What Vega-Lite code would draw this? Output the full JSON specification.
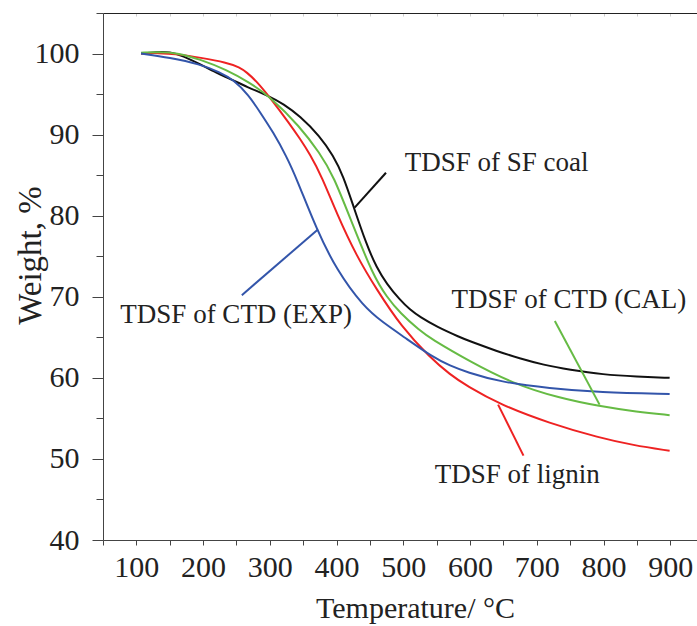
{
  "$schema": "https://vega.github.io/schema/vega-lite/v6.json",
  "width": 594,
  "height": 527,
  "autosize": {"type": "none"},
  "padding": {"left": 103, "top": 13, "right": 0, "bottom": 86},
  "config": {"view": {"stroke": null}, "font": "Liberation Serif"},
  "datasets": {
    "curves": [
      {"series": "SF coal", "t": 107, "w": 100.0},
      {"series": "SF coal", "t": 130, "w": 100.2},
      {"series": "SF coal", "t": 150, "w": 100.2},
      {"series": "SF coal", "t": 170, "w": 99.7},
      {"series": "SF coal", "t": 195, "w": 98.7},
      {"series": "SF coal", "t": 220, "w": 97.6},
      {"series": "SF coal", "t": 240, "w": 96.9},
      {"series": "SF coal", "t": 265, "w": 95.9},
      {"series": "SF coal", "t": 300, "w": 94.7},
      {"series": "SF coal", "t": 320, "w": 93.8},
      {"series": "SF coal", "t": 345, "w": 92.3},
      {"series": "SF coal", "t": 375, "w": 89.8},
      {"series": "SF coal", "t": 395, "w": 87.4},
      {"series": "SF coal", "t": 410, "w": 84.9},
      {"series": "SF coal", "t": 425, "w": 81.2},
      {"series": "SF coal", "t": 445, "w": 76.4},
      {"series": "SF coal", "t": 460, "w": 73.6},
      {"series": "SF coal", "t": 475, "w": 71.6},
      {"series": "SF coal", "t": 495, "w": 69.6},
      {"series": "SF coal", "t": 510, "w": 68.4},
      {"series": "SF coal", "t": 525, "w": 67.5},
      {"series": "SF coal", "t": 550, "w": 66.3},
      {"series": "SF coal", "t": 585, "w": 65.0},
      {"series": "SF coal", "t": 600, "w": 64.5},
      {"series": "SF coal", "t": 640, "w": 63.3},
      {"series": "SF coal", "t": 674, "w": 62.4},
      {"series": "SF coal", "t": 710, "w": 61.6},
      {"series": "SF coal", "t": 749, "w": 61.0},
      {"series": "SF coal", "t": 799, "w": 60.4},
      {"series": "SF coal", "t": 850, "w": 60.15},
      {"series": "SF coal", "t": 899, "w": 60.0},

      {"series": "lignin", "t": 107, "w": 100.0},
      {"series": "lignin", "t": 130, "w": 100.1},
      {"series": "lignin", "t": 165, "w": 99.9},
      {"series": "lignin", "t": 195, "w": 99.5},
      {"series": "lignin", "t": 235, "w": 98.9},
      {"series": "lignin", "t": 255, "w": 98.3},
      {"series": "lignin", "t": 265, "w": 97.7},
      {"series": "lignin", "t": 280, "w": 96.6},
      {"series": "lignin", "t": 300, "w": 94.6},
      {"series": "lignin", "t": 330, "w": 91.3},
      {"series": "lignin", "t": 345, "w": 89.5},
      {"series": "lignin", "t": 360, "w": 87.6},
      {"series": "lignin", "t": 378, "w": 84.8},
      {"series": "lignin", "t": 400, "w": 80.3},
      {"series": "lignin", "t": 430, "w": 75.0},
      {"series": "lignin", "t": 460, "w": 70.9},
      {"series": "lignin", "t": 497, "w": 66.3},
      {"series": "lignin", "t": 540, "w": 62.5},
      {"series": "lignin", "t": 570, "w": 60.4},
      {"series": "lignin", "t": 595, "w": 59.0},
      {"series": "lignin", "t": 645, "w": 56.7},
      {"series": "lignin", "t": 719, "w": 54.4},
      {"series": "lignin", "t": 794, "w": 52.6},
      {"series": "lignin", "t": 844, "w": 51.7},
      {"series": "lignin", "t": 899, "w": 51.0},

      {"series": "CAL", "t": 107, "w": 100.1},
      {"series": "CAL", "t": 135, "w": 100.2},
      {"series": "CAL", "t": 160, "w": 100.1},
      {"series": "CAL", "t": 195, "w": 99.3},
      {"series": "CAL", "t": 235, "w": 98.0},
      {"series": "CAL", "t": 270, "w": 96.4},
      {"series": "CAL", "t": 300, "w": 94.7},
      {"series": "CAL", "t": 345, "w": 91.0},
      {"series": "CAL", "t": 375, "w": 87.7},
      {"series": "CAL", "t": 395, "w": 85.0},
      {"series": "CAL", "t": 425, "w": 78.7},
      {"series": "CAL", "t": 455, "w": 72.6},
      {"series": "CAL", "t": 475, "w": 70.0},
      {"series": "CAL", "t": 495, "w": 68.0},
      {"series": "CAL", "t": 525, "w": 65.8},
      {"series": "CAL", "t": 540, "w": 64.9},
      {"series": "CAL", "t": 600, "w": 62.0},
      {"series": "CAL", "t": 664, "w": 59.3},
      {"series": "CAL", "t": 734, "w": 57.5},
      {"series": "CAL", "t": 794, "w": 56.5},
      {"series": "CAL", "t": 850, "w": 55.8},
      {"series": "CAL", "t": 899, "w": 55.4},

      {"series": "EXP", "t": 107, "w": 100.0},
      {"series": "EXP", "t": 150, "w": 99.5},
      {"series": "EXP", "t": 195, "w": 98.7},
      {"series": "EXP", "t": 225, "w": 97.7},
      {"series": "EXP", "t": 245, "w": 96.8},
      {"series": "EXP", "t": 268, "w": 94.9},
      {"series": "EXP", "t": 285, "w": 92.8},
      {"series": "EXP", "t": 305, "w": 90.3},
      {"series": "EXP", "t": 325, "w": 87.3},
      {"series": "EXP", "t": 340, "w": 84.6},
      {"series": "EXP", "t": 370, "w": 78.3},
      {"series": "EXP", "t": 400, "w": 73.3},
      {"series": "EXP", "t": 440, "w": 68.8},
      {"series": "EXP", "t": 470, "w": 66.8},
      {"series": "EXP", "t": 500, "w": 65.1},
      {"series": "EXP", "t": 545, "w": 62.5},
      {"series": "EXP", "t": 570, "w": 61.5},
      {"series": "EXP", "t": 595, "w": 60.7},
      {"series": "EXP", "t": 645, "w": 59.5},
      {"series": "EXP", "t": 719, "w": 58.7},
      {"series": "EXP", "t": 794, "w": 58.2},
      {"series": "EXP", "t": 899, "w": 58.0}
    ],
    "callouts": [
      {"series": "SF coal", "t1": 474, "w1": 85.3, "t2": 427, "w2": 81.0},
      {"series": "EXP", "t1": 258, "w1": 70.2, "t2": 372, "w2": 78.3},
      {"series": "CAL", "t1": 727, "w1": 67.0, "t2": 794, "w2": 56.7},
      {"series": "lignin", "t1": 642, "w1": 56.7, "t2": 680, "w2": 50.4}
    ],
    "labels": [
      {"text": "TDSF of SF coal", "t": 502, "w": 86.5},
      {"text": "TDSF of CTD (EXP)", "t": 76, "w": 67.8},
      {"text": "TDSF of CTD (CAL)", "t": 572, "w": 69.6},
      {"text": "TDSF of lignin", "t": 547, "w": 48.0}
    ]
  },
  "layer": [
    {
      "data": {"name": "curves"},
      "mark": {"type": "line", "strokeWidth": 2, "interpolate": "basis"},
      "encoding": {
        "x": {
          "field": "t", "type": "quantitative",
          "scale": {"domain": [50, 940], "nice": false, "zero": false},
          "axis": {
            "orient": "bottom",
            "values": [50, 100, 150, 200, 250, 300, 350, 400, 450, 500, 550, 600, 650, 700, 750, 800, 850, 900],
            "labelExpr": "datum.value % 100 === 0 ? datum.label : ''",
            "labelFlush": false, "labelOverlap": false,
            "grid": false,
            "tickSize": 5, "tickColor": "#444", "domainColor": "#444", "domainWidth": 1,
            "labelFontSize": 30, "labelColor": "#222", "labelBaseline": "alphabetic", "labelPadding": 31,
            "title": "Temperature/ °C", "titleFontSize": 30, "titleFontWeight": "normal", "titleColor": "#222",
            "titleX": 312, "titleY": 77, "titleBaseline": "alphabetic", "titleAlign": "center"
          }
        },
        "y": {
          "field": "w", "type": "quantitative",
          "scale": {"domain": [40, 105], "nice": false, "zero": false},
          "axis": {
            "orient": "left",
            "values": [40, 45, 50, 55, 60, 65, 70, 75, 80, 85, 90, 95, 100, 105],
            "labelExpr": "datum.value % 10 === 0 ? datum.label : ''",
            "labelFlush": false, "labelOverlap": false,
            "grid": false,
            "tickSize": {"condition": {"test": "datum.value % 10 === 0", "value": 11}, "value": 7},
            "tickColor": "#444", "domainColor": "#444", "domainWidth": 1,
            "labelFontSize": 30, "labelColor": "#222", "labelPadding": 13,
            "title": "Weight, %", "titleFontSize": 33, "titleFontWeight": "normal", "titleColor": "#222",
            "titleX": -63, "titleY": 242, "titleBaseline": "alphabetic", "titleAlign": "center", "titleAngle": -90
          }
        },
        "color": {
          "field": "series", "type": "nominal",
          "scale": {"domain": ["SF coal", "lignin", "CAL", "EXP"], "range": ["#111111", "#ee2222", "#66bb44", "#3355aa"]},
          "legend": null
        }
      }
    },
    {
      "data": {"name": "callouts"},
      "mark": {"type": "rule", "strokeWidth": 2},
      "encoding": {
        "x": {
          "field": "t1", "type": "quantitative",
          "scale": {"domain": [50, 940], "nice": false, "zero": false},
          "axis": {
            "orient": "top",
            "values": [50, 100, 150, 200, 250, 300, 350, 400, 450, 500, 550, 600, 650, 700, 750, 800, 850, 900],
            "labels": false, "grid": false, "title": null,
            "tickSize": -3, "tickColor": "#cccccc", "domainColor": "#222", "domainWidth": 1
          }
        },
        "y": {"field": "w1", "type": "quantitative", "scale": {"domain": [40, 105], "nice": false, "zero": false}, "axis": null},
        "x2": {"field": "t2"},
        "y2": {"field": "w2"},
        "color": {
          "field": "series", "type": "nominal",
          "scale": {"domain": ["SF coal", "lignin", "CAL", "EXP"], "range": ["#111111", "#ee2222", "#66bb44", "#3355aa"]},
          "legend": null
        }
      }
    },
    {
      "data": {"name": "labels"},
      "mark": {"type": "text", "align": "left", "baseline": "middle", "fontSize": 27, "font": "Liberation Serif", "color": "#222"},
      "encoding": {
        "x": {"field": "t", "type": "quantitative", "scale": {"domain": [50, 940], "nice": false, "zero": false}, "axis": null},
        "y": {"field": "w", "type": "quantitative", "scale": {"domain": [40, 105], "nice": false, "zero": false}, "axis": null},
        "text": {"field": "text"}
      }
    }
  ],
  "resolve": {"axis": {"x": "independent", "y": "independent"}}
}
